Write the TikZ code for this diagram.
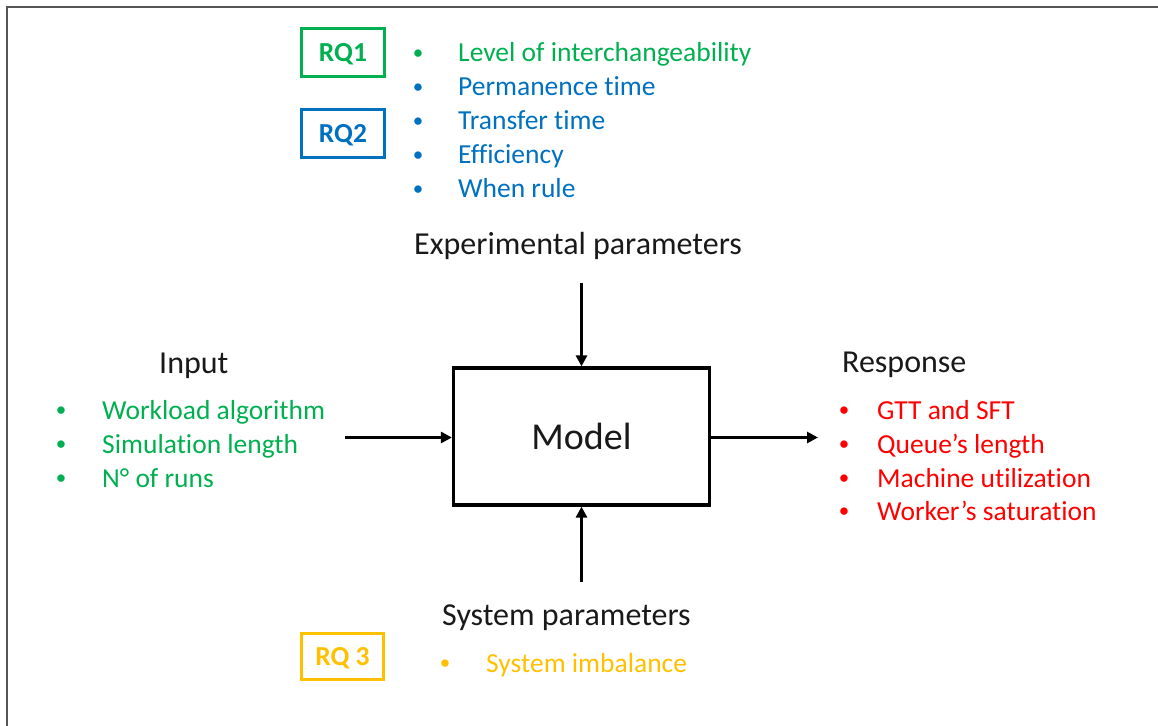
\documentclass[tikz,border=0pt]{standalone}
\usepackage{fontspec}
\setmainfont{Carlito}[Ligatures=NoCommon]
\usetikzlibrary{arrows.meta}

\definecolor{rqgreen}{HTML}{00B050}
\definecolor{rqblue}{HTML}{0070C0}
\definecolor{rqred}{HTML}{FF0000}
\definecolor{rqgold}{HTML}{FFC000}
\definecolor{framegray}{HTML}{555555}

\tikzset{
  listfont/.style={font=\fontsize{27.5bp}{33bp}\selectfont},
  headfont/.style={font=\fontsize{32bp}{38bp}\selectfont},
  item/.style={listfont, anchor=base west, inner sep=0pt},
  dot/.style={font=\fontsize{21bp}{25bp}\selectfont, anchor=base, inner sep=0pt, yshift=2.5bp},
  heading/.style={headfont, anchor=base west, inner sep=0pt, text=black!90},
  rqbox/.style={draw, line width=3bp, minimum width=83bp, minimum height=48bp,
    inner sep=0pt, text height=17.4bp, text depth=0pt,
    font=\fontsize{27.5bp}{33bp}\selectfont\bfseries},
  modelbox/.style={draw=black, line width=3.2bp, minimum width=256bp, minimum height=137bp,
    inner sep=0pt, font=\fontsize{38bp}{44bp}\selectfont, text=black!90},
  flow/.style={line width=3bp, -{Triangle[length=11bp,width=11bp]}},
  frame/.style={draw=framegray, line width=1.6bp},
}

\begin{document}
\begin{tikzpicture}[x=1bp, y=-1bp]
  \useasboundingbox (0,0) rectangle (1158,726);
  \draw[frame] (7,726) -- (7,7) -- (1158,7);

  % central block
  \node[modelbox] (model) at (581.5,436.5) {Model};

  % research question tags
  \node[rqbox, draw=rqgreen, text=rqgreen] (rq1) at (343,52.5) {RQ1};
  \node[rqbox, draw=rqblue, text=rqblue] (rq2) at (343,133.5) {RQ2};
  \node[rqbox, draw=rqgold, text=rqgold, minimum width=82bp, minimum height=46bp] (rq3) at (342.5,656.5) {RQ 3};

  % experimental parameters
  \node[dot, text=rqgreen] (e1b) at (418,62) {•};
  \node[item, text=rqgreen] (e1) at (458,62) {Level of interchangeability};
  \node[dot, text=rqblue] (e2b) at (418,96) {•};
  \node[item, text=rqblue] (e2) at (458,96) {Permanence time};
  \node[dot, text=rqblue] (e3b) at (418,130) {•};
  \node[item, text=rqblue] (e3) at (458,130) {Transfer time};
  \node[dot, text=rqblue] (e4b) at (418,164) {•};
  \node[item, text=rqblue] (e4) at (458,164) {Efficiency};
  \node[dot, text=rqblue] (e5b) at (418,198) {•};
  \node[item, text=rqblue] (e5) at (458,198) {When rule};
  \node[heading] (exphead) at (414,254) {Experimental parameters};

  % input
  \node[heading] (inhead) at (159,373) {Input};
  \node[dot, text=rqgreen] (i1b) at (61,419) {•};
  \node[item, text=rqgreen] (i1) at (102,419) {Workload algorithm};
  \node[dot, text=rqgreen] (i2b) at (61,453) {•};
  \node[item, text=rqgreen] (i2) at (102,453) {Simulation length};
  \node[dot, text=rqgreen] (i3b) at (61,487) {•};
  \node[item, text=rqgreen] (i3) at (102,487) {N° of runs};

  % response
  \node[heading] (resphead) at (842,372) {Response};
  \node[dot, text=rqred] (r1b) at (844,419) {•};
  \node[item, text=rqred] (r1) at (877,419) {GTT and SFT};
  \node[dot, text=rqred] (r2b) at (844,453) {•};
  \node[item, text=rqred] (r2) at (877,453) {Queue’s length};
  \node[dot, text=rqred] (r3b) at (844,487) {•};
  \node[item, text=rqred] (r3) at (877,487) {Machine utilization};
  \node[dot, text=rqred] (r4b) at (844,520) {•};
  \node[item, text=rqred] (r4) at (877,520) {Worker’s saturation};

  % system parameters
  \node[heading] (syshead) at (442,625) {System parameters};
  \node[dot, text=rqgold] (s1b) at (445,672) {•};
  \node[item, text=rqgold] (s1) at (486,672) {System imbalance};

  % connectors
  \coordinate (inStart) at (345,437.5);
  \coordinate (outEnd) at (818,437.5);
  \coordinate (topStart) at (581.5,283);
  \coordinate (botStart) at (581.5,582);
  \draw[flow] (inStart) -- (model.west |- inStart);
  \draw[flow] (model.east |- outEnd) -- (outEnd);
  \draw[flow] (topStart) -- (model.north);
  \draw[flow] (botStart) -- (model.south);
\end{tikzpicture}
\end{document}
